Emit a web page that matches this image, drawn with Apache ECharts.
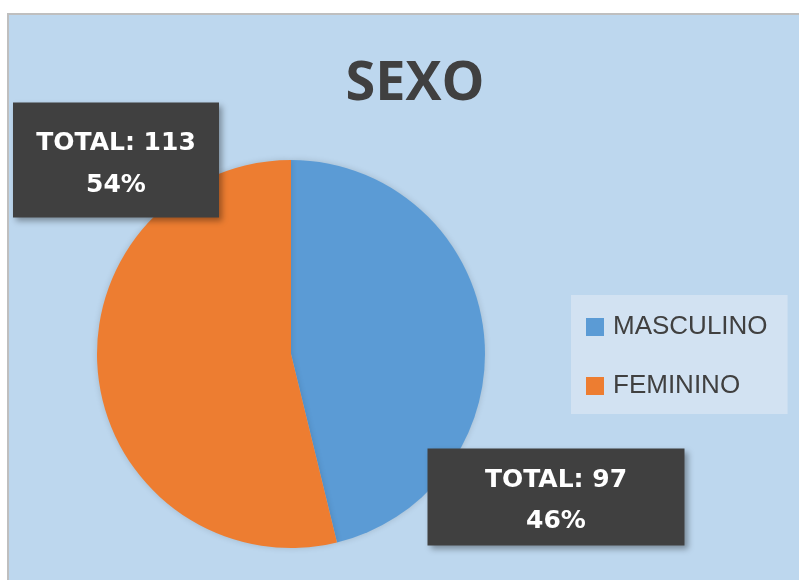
<!DOCTYPE html>
<html>
<head>
<meta charset="utf-8">
<script src="https://cdn.jsdelivr.net/npm/echarts@6/dist/echarts.min.js"></script>
<style>
    html,body{margin:0;padding:0;background:#fff;}
    #panel{position:absolute;left:7px;top:13px;width:790px;height:565px;background:#bdd7ee;border-top:2px solid #bfbfbf;border-left:2px solid #bfbfbf;}
    #main{position:absolute;left:0;top:0;width:799px;height:580px;}
</style>
</head>
<body>
<div id="panel"></div>
<div id="main"></div>
<script>
// datos
let categorias = ['MASCULINO','FEMININO'];
let valores = [97, 113];
let colores = ['#5b9bd5','#ed7d31'];

let myChart = echarts.init(document.getElementById('main'));

let total = valores.reduce((a,b)=>a+b,0);

// posiciones de las etiquetas (centro de la caja)
let posEtiquetas = [
    {x:556, y:497, w:257, h:97, pt:11, lh:41},
    {x:116, y:160, w:206, h:115, pt:20, lh:42}
];

myChart.setOption({
    backgroundColor:'transparent',
    title:{
        text:'SEXO',
        left:410,
        top:53,
        textAlign:'center',
        textStyle:{
            fontFamily:'Open Sans',
            fontWeight:'bold',
            fontSize:54,
            color:'#404040'
        }
    },
    legend:{
        orient:'vertical',
        left:571,
        top:295,
        backgroundColor:'#d2e2f2',
        padding:[19,20,15,15],
        itemWidth:18,
        itemHeight:18,
        itemGap:33,
        icon:'rect',
        data:categorias,
        textStyle:{
            fontFamily:'Liberation Sans',
            fontSize:26,
            color:'#404040',
            padding:[0,0,0,4]
        }
    },
    series:[{
        type:'pie',
        center:[291,354],
        radius:194,
        startAngle:90,
        clockwise:true,
        silent:true,
        itemStyle:{
            shadowBlur:6,
            shadowColor:'rgba(0,0,0,0.15)'
        },
        labelLine:{show:false},
        label:{
            show:true,
            formatter:(p)=>'{t|TOTAL: '+p.value+'}\n{t|'+Math.round(p.value/total*100)+'%}',
            backgroundColor:'#404040',
            align:'center',
            shadowBlur:6,
            shadowOffsetX:3,
            shadowOffsetY:3,
            shadowColor:'rgba(0,0,0,0.35)'
        },
        labelLayout:(params)=>{
            let p = posEtiquetas[params.dataIndex];
            return {x:p.x, y:p.y, align:'center', verticalAlign:'middle'};
        },
        data:categorias.map((c,i)=>{
            let p = posEtiquetas[i];
            return {
                name:c,
                value:valores[i],
                itemStyle:{color:colores[i]},
                label:{
                    width:p.w,
                    height:p.h - p.pt,
                    padding:[p.pt,0,0,0],
                    rich:{
                        t:{
                            fontFamily:'DejaVu Sans',
                            fontWeight:'bold',
                            fontSize:25,
                            color:'#fff',
                            lineHeight:p.lh
                        }
                    }
                }
            };
        })
    }]
});
</script>
</body>
</html>
